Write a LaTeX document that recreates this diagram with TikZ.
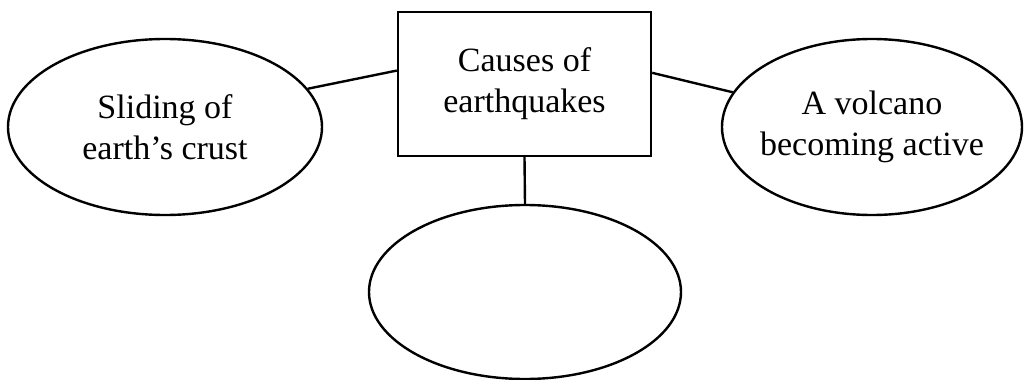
\documentclass[tikz,border=0pt]{standalone}
\usepackage{fontspec}
\setmainfont{Liberation Serif}
\usepackage{tikz}
\usetikzlibrary{shapes.geometric}

\begin{document}
\begin{tikzpicture}[x=0.5pt,y=-0.5pt,line width=1.2pt,
		words/.style={align=center,font=\fontsize{17}{20.5}\selectfont},
		bubble/.style={draw,ellipse,inner sep=0pt},
		topic/.style={draw,rectangle,inner sep=0pt,words,minimum width=126.5pt,minimum height=72pt}]
			\useasboundingbox (0,0) rectangle (1024,380);
			\node[topic] (cause) at (524.5,84) {Causes of\\earthquakes};
			\node[bubble,minimum width=157pt,minimum height=88pt] (sliding) at (165,127) {};
			\node[words] (slidingtext) at (sliding.center) {Sliding of\\earth's crust};
			\node[bubble,minimum width=150pt,minimum height=88pt] (volcano) at (872,127) {};
			\node[words] (volcanotext) at (volcano.center) {A volcano\\becoming active};
			\node[bubble,minimum width=156pt,minimum height=87pt] (blank) at (525,292) {};
			\draw (sliding.15) -- (cause.174);
			\draw (cause.5) -- (volcano.166);
			\draw (cause.south) -- (blank.north);
		\end{tikzpicture}
\end{document}
